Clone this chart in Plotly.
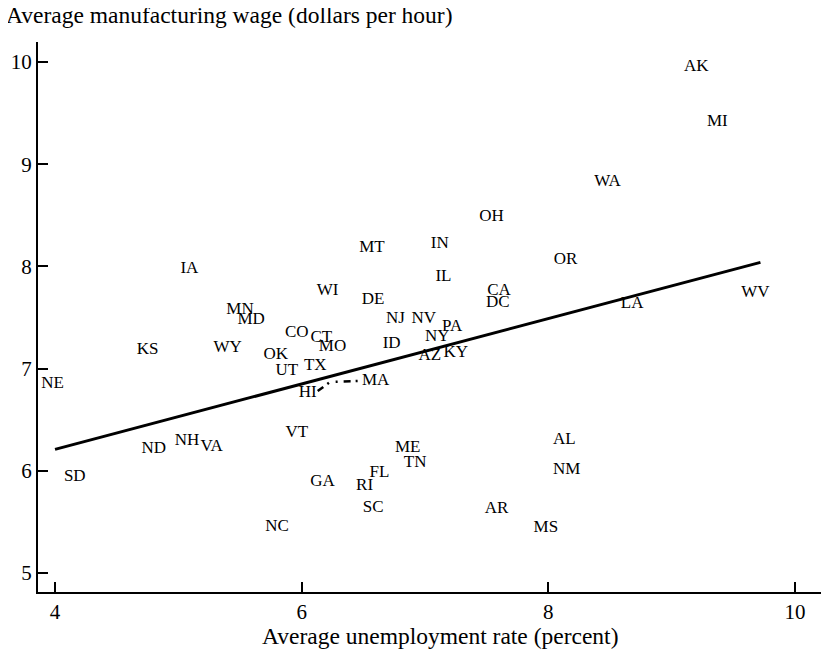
import plotly.graph_objects as go

# State labels with (unemployment rate, manufacturing wage)
states = ["AK", "MI", "WA", "OH", "IN", "MT", "IA", "OR", "IL", "CA", "DC", "WV", "LA",
          "WI", "DE", "MN", "MD", "NJ", "NV", "PA", "CO", "CT", "NY", "ID", "MO", "KS",
          "WY", "OK", "AZ", "KY", "TX", "UT", "NE", "MA", "HI", "VT", "NH", "VA", "ND",
          "ME", "TN", "AL", "NM", "SD", "GA", "FL", "RI", "SC", "AR", "MS", "NC"]
unemployment = [9.20, 9.37, 8.48, 7.54, 7.12, 6.57, 5.09, 8.14, 7.15, 7.60, 7.59, 9.68, 8.68,
                6.21, 6.58, 5.50, 5.59, 6.76, 6.99, 7.22, 5.96, 6.16, 7.10, 6.73, 6.25, 4.75,
                5.40, 5.79, 7.04, 7.25, 6.11, 5.88, 3.98, 6.60, 6.05, 5.96, 5.07, 5.27, 4.80,
                6.86, 6.92, 8.13, 8.15, 4.16, 6.17, 6.63, 6.51, 6.58, 7.58, 7.98, 5.80]
wage = [9.95, 9.42, 8.83, 8.49, 8.22, 8.18, 7.98, 8.07, 7.90, 7.76, 7.64, 7.74, 7.63,
        7.76, 7.67, 7.58, 7.48, 7.49, 7.49, 7.41, 7.35, 7.30, 7.31, 7.24, 7.21, 7.18,
        7.20, 7.14, 7.13, 7.16, 7.03, 6.98, 6.85, 6.88, 6.76, 6.37, 6.29, 6.24, 6.22,
        6.23, 6.08, 6.30, 6.01, 5.94, 5.89, 5.98, 5.85, 5.64, 5.63, 5.44, 5.45]

# Fitted regression line endpoints
fit_x = [4.0, 9.72]
fit_y = [6.21, 8.04]

# Connector between HI and MA
link_x = [6.13, 6.23, 6.47]
link_y = [6.78, 6.87, 6.88]

x_ticks = [4, 6, 8, 10]
y_ticks = [5, 6, 7, 8, 9, 10]

FONT = "Liberation Serif, Times New Roman, serif"

fig = go.Figure()
fig.add_trace(go.Scatter(x=fit_x, y=fit_y, mode="lines",
                         line=dict(color="black", width=3), hoverinfo="skip"))
fig.add_trace(go.Scatter(x=link_x, y=link_y, mode="lines",
                         line=dict(color="black", width=2.5, dash="7px,5px,2px,7px,2px,6px"),
                         hoverinfo="skip"))
fig.add_trace(go.Scatter(x=unemployment, y=wage, mode="text", text=states,
                         textposition="middle center",
                         textfont=dict(family=FONT, size=17, color="black")))

# The page body adds an 8px offset, so the figure is 8px smaller than the window.
fig.update_layout(
    width=821, height=641,
    margin=dict(l=30, r=0, t=34, b=57),
    paper_bgcolor="white", plot_bgcolor="white",
    showlegend=False,
    font=dict(family=FONT, color="black"),
    xaxis=dict(range=[3.862, 10.276], tickvals=x_ticks, ticktext=[str(v) for v in x_ticks],
               ticks="inside", ticklen=10, tickwidth=1.5, tickcolor="black", automargin=False,
               showline=True, linecolor="black", linewidth=2, showgrid=False, zeroline=False,
               tickfont=dict(family=FONT, size=21, color="black")),
    yaxis=dict(range=[4.814, 10.196], tickvals=y_ticks, ticktext=[str(v) for v in y_ticks],
               ticks="inside", ticklen=10, tickwidth=1.5, tickcolor="black", automargin=False,
               showline=True, linecolor="black", linewidth=2, showgrid=False, zeroline=False,
               tickfont=dict(family=FONT, size=21, color="black")),
    annotations=[
        dict(text="Average manufacturing wage (dollars per hour)", xref="paper", yref="paper",
             x=(4 - 38) / 791, y=1 + (42 - 15) / 550, xanchor="left", yanchor="middle",
             showarrow=False, font=dict(family=FONT, size=23.5, color="black")),
        dict(text="Average unemployment rate (percent)", xref="paper", yref="paper",
             x=(440 - 38) / 791, y=(592 - 636) / 550, xanchor="center", yanchor="middle",
             showarrow=False, font=dict(family=FONT, size=23.5, color="black")),
    ],
)

fig.write_html("out.html")
